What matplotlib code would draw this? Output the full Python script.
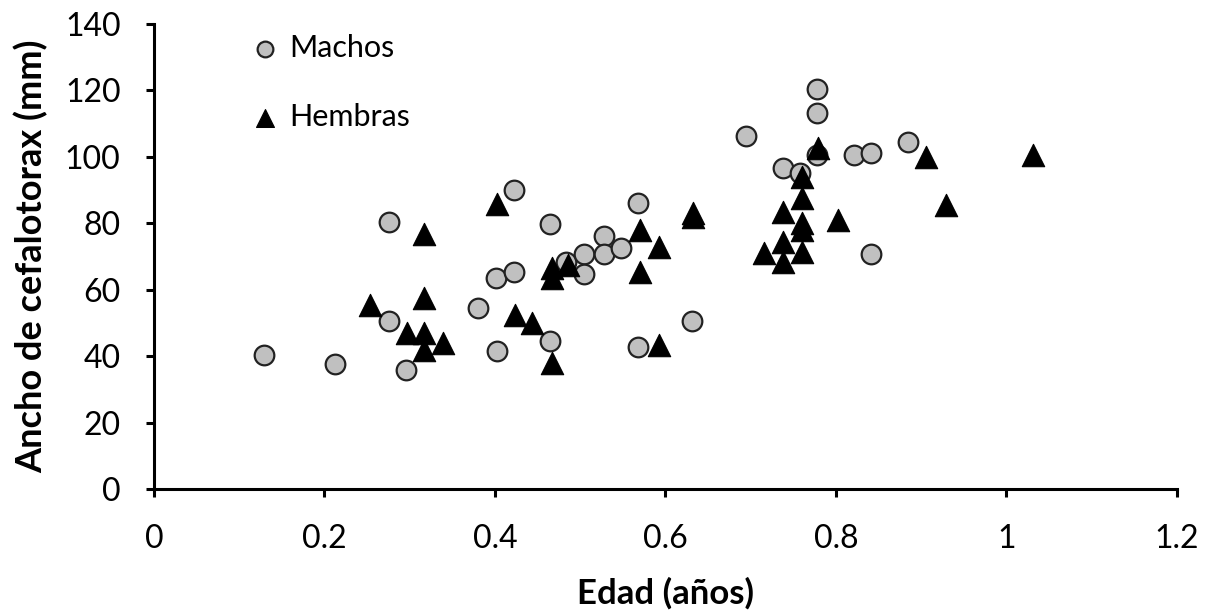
import matplotlib
matplotlib.use("Agg")
import matplotlib.pyplot as plt

plt.rcParams['font.family'] = ['Lato', 'DejaVu Sans']

# Machos (male) data
machos_edad = [0.129, 0.212, 0.276, 0.276, 0.296, 0.380, 0.401, 0.402, 0.422, 0.422,
               0.465, 0.465, 0.483, 0.504, 0.504, 0.528, 0.528, 0.548, 0.568, 0.568,
               0.631, 0.694, 0.738, 0.758, 0.778, 0.778, 0.778, 0.821, 0.841, 0.841, 0.885]
machos_ancho = [40.4, 37.7, 80.4, 50.6, 35.8, 54.5, 63.6, 41.6, 65.4, 90.1,
                79.8, 44.6, 68.4, 70.8, 64.8, 76.2, 70.8, 72.6, 86.1, 42.8,
                50.6, 106.3, 96.7, 95.2, 120.5, 113.3, 100.6, 100.6, 101.2, 70.8, 104.5]

# Hembras (female) data
hembras_edad = [0.253, 0.297, 0.317, 0.317, 0.317, 0.317, 0.339, 0.402, 0.423, 0.443,
                0.467, 0.467, 0.467, 0.486, 0.570, 0.570, 0.592, 0.592, 0.632, 0.632,
                0.716, 0.738, 0.738, 0.738, 0.760, 0.760, 0.760, 0.760, 0.760, 0.779,
                0.802, 0.906, 0.929, 1.031]
hembras_ancho = [55.4, 47.0, 76.8, 57.5, 47.0, 41.9, 44.0, 85.8, 52.4, 50.0,
                 66.6, 63.6, 37.9, 67.5, 78.0, 65.4, 72.9, 43.4, 83.0, 82.0,
                 71.1, 83.4, 74.4, 68.4, 94.0, 87.7, 80.1, 78.0, 71.4, 102.7,
                 81.0, 100.0, 85.5, 100.6]

x_ticks = [0, 0.2, 0.4, 0.6, 0.8, 1.0, 1.2]
x_ticklabels = ['0', '0.2', '0.4', '0.6', '0.8', '1', '1.2']
y_ticks = [0, 20, 40, 60, 80, 100, 120, 140]

fig = plt.figure(figsize=(12.12, 6.14), dpi=100)
ax = fig.add_axes([0.127, 0.2036, 0.844, 0.7573])

ax.scatter(machos_edad, machos_ancho, s=200, marker='o', facecolor='#c0c0c0',
           edgecolor='#222222', linewidth=1.6, label='Machos', zorder=3)
ax.scatter(hembras_edad, hembras_ancho, s=260, marker='^', facecolor='black',
           edgecolor='black', linewidth=0.8, label='Hembras', zorder=3)

ax.set_xlim(0, 1.2)
ax.set_ylim(0, 140)
ax.set_xticks(x_ticks)
ax.set_xticklabels(x_ticklabels)
ax.set_yticks(y_ticks)

for side in ['top', 'right']:
    ax.spines[side].set_visible(False)
for side in ['left', 'bottom']:
    ax.spines[side].set_linewidth(2.2)
    ax.spines[side].set_color('black')
    ax.spines[side].set_capstyle('projecting')

ax.tick_params(axis='both', direction='out', length=6, width=2.2, labelsize=23,
               colors='black')
ax.tick_params(axis='x', pad=19)
ax.tick_params(axis='y', pad=18)

ax.set_xlabel('Edad (años)', fontsize=25, fontweight='bold', labelpad=17)
ax.set_ylabel('Ancho de cefalotorax (mm)', fontsize=26, fontweight='bold', labelpad=12)

leg = ax.legend(loc='upper left', bbox_to_anchor=(250 / 1212, 1 - 34 / 614),
                bbox_transform=fig.transFigure, frameon=False,
                fontsize=22, markerscale=0.8, handletextpad=0.3, labelspacing=1.35,
                handlelength=1.0, borderaxespad=0, borderpad=0)

fig.savefig('out.png', dpi=100)
